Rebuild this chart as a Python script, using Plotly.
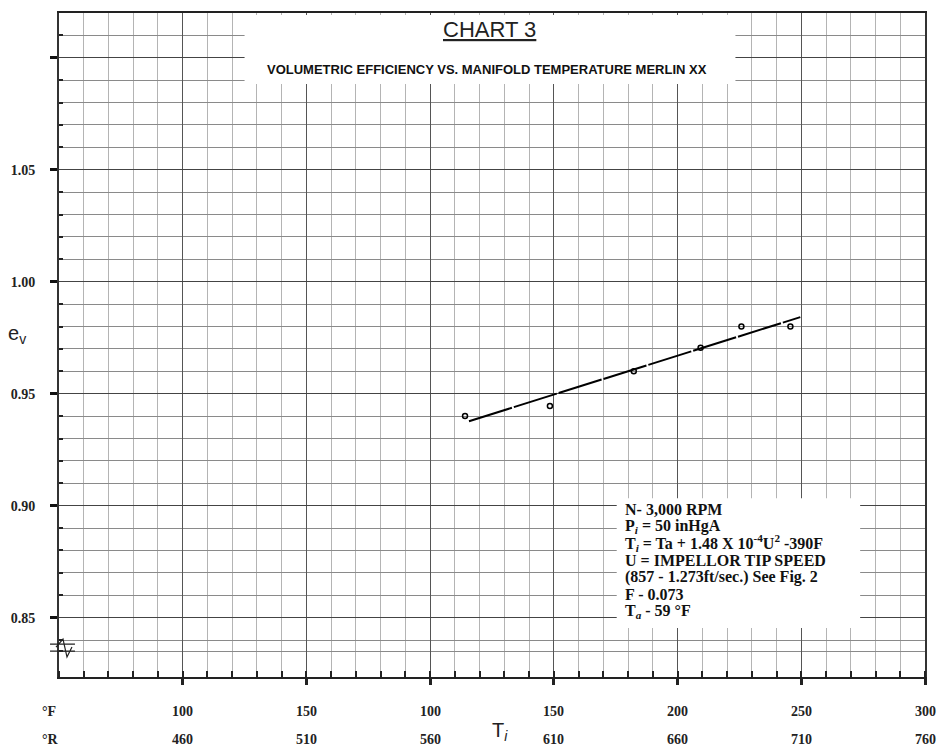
import plotly.graph_objects as go

# ---- data ----
temp_R = [574.1, 608.4, 642.3, 669.3, 685.8, 705.6]
ev = [0.940, 0.9445, 0.960, 0.9705, 0.980, 0.980]

fit_T = [575.7, 709.6]
fit_ev = [0.9377, 0.9842]

x_major = [460, 510, 560, 610, 660, 710, 760]
F_labels = ["100", "150", "100", "150", "200", "250", "300"]
R_labels = ["460", "510", "560", "610", "660", "710", "760"]

y_major = [0.85, 0.90, 0.95, 1.00, 1.05, 1.10]
y_labels = ["0.85", "0.90", "0.95", "1.00", "1.05", ""]
y_minor = [0.835, 0.84, 0.86, 0.87, 0.88, 0.89, 0.91, 0.92, 0.93, 0.94,
           0.96, 0.97, 0.98, 0.99, 1.01, 1.02, 1.03, 1.04, 1.06, 1.07,
           1.08, 1.09, 1.11]

note_lines = [
    "N- 3,000 RPM",
    "P<sub><i>i</i></sub> = 50 inHgA",
    "T<sub><i>i</i></sub> = Ta + 1.48 X 10<sup>-4</sup>U<sup>2</sup> -390F",
    "U = IMPELLOR TIP SPEED",
    "(857 - 1.273ft/sec.) See Fig. 2",
    "F - 0.073",
    "T<sub><i>a</i></sub> - 59 °F",
]

SERIF = "Liberation Serif"
SANS = "Liberation Sans"

W, H = 938, 747
L, R, T, B = 59, 11, 12, 70
PW, PH = W - L - R, H - T - B


def px(xp):
    return (xp - L) / PW


def py(yp):
    return (H - B - yp) / PH


fig = go.Figure()

fig.add_trace(go.Scatter(
    x=fit_T, y=fit_ev, mode="lines",
    line=dict(color="black", width=2, dash="45px,2px"),
    showlegend=False, hoverinfo="skip"))

fig.add_trace(go.Scatter(
    x=temp_R, y=ev, mode="markers",
    marker=dict(symbol="circle-open", size=5, color="black", line=dict(width=1.5)),
    showlegend=False))

fig.update_layout(
    width=W, height=H,
    margin=dict(l=L, r=R, t=T, b=B),
    paper_bgcolor="white", plot_bgcolor="white",
    xaxis=dict(
        range=[410, 760], tickvals=x_major, showticklabels=False,
        showgrid=True, gridcolor="#555", gridwidth=1.3,
        ticks="outside", ticklen=6, tickwidth=2.5, tickcolor="#222",
        showline=True, linecolor="#222", linewidth=2, mirror=True,
        zeroline=False,
        minor=dict(dtick=10, tick0=410, showgrid=True, gridcolor="#b4b4b4",
                   gridwidth=1, ticks="inside", ticklen=6, tickwidth=1.5,
                   tickcolor="#222"),
    ),
    yaxis=dict(
        range=[0.8235, 1.12], tickvals=y_major,
        ticktext=["<b>" + t + "</b>" if t else "" for t in y_labels],
        tickfont=dict(family=SERIF, size=14, color="#222"),
        ticklabelstandoff=12,
        showgrid=True, gridcolor="#444", gridwidth=1.3,
        ticks="outside", ticklen=7, tickwidth=3, tickcolor="#111",
        showline=True, linecolor="#333", linewidth=2, mirror=True,
        zeroline=False,
        minor=dict(tickvals=y_minor, showgrid=True, gridcolor="#8a8a8a",
                   gridwidth=1, ticks="inside", ticklen=4, tickwidth=2,
                   tickcolor="#222"),
    ),
)

# white areas behind the title and the note block
fig.add_shape(type="rect", xref="paper", yref="paper",
              x0=px(245), x1=px(737), y0=py(83), y1=py(14),
              fillcolor="white", line=dict(width=0), layer="above")
fig.add_shape(type="rect", xref="paper", yref="paper",
              x0=px(618), x1=px(862), y0=py(628), y1=py(498),
              fillcolor="white", line=dict(width=0), layer="above")


def txt(text, x, y, font, xref="paper", xanchor="center"):
    return dict(text=text, x=x, y=y, xref=xref, yref="paper",
                xanchor=xanchor, yanchor="middle", showarrow=False, font=font)


f_title = dict(family=SANS, size=22, color="#222")
f_sub = dict(family=SANS, size=13, color="#111")
f_big = dict(family=SANS, size=20, color="#222")
f_note = dict(family=SERIF, size=16, color="#111")
f_tick = dict(family=SERIF, size=14, color="#222")

ann = []
ann.append(txt("<u>CHART 3</u>", px(490), py(29), f_title))
ann.append(txt("<b>VOLUMETRIC EFFICIENCY VS. MANIFOLD TEMPERATURE MERLIN XX</b>",
               px(488), py(69), f_sub))
ann.append(txt("e<sub>v</sub>", px(17), py(334), f_big))

for i, line in enumerate(note_lines):
    ann.append(txt("<b>" + line + "</b>", px(624), py(509 + 17 * i), f_note,
                   xanchor="left"))

ann.append(txt("<b>°F</b>", px(49), py(712), f_tick))
ann.append(txt("<b>°R</b>", px(50), py(740), f_tick))
for xv, fl, rl in zip(x_major, F_labels, R_labels):
    ann.append(txt("<b>" + fl + "</b>", xv, py(712), f_tick, xref="x"))
    ann.append(txt("<b>" + rl + "</b>", xv, py(740), f_tick, xref="x"))
ann.append(txt("T<sub><i>i</i></sub>", px(501), py(732), f_big))

fig.update_layout(annotations=ann)

# axis break mark on the left axis
brk = "M {a},{b} L {c},{b} M {a},{d} L {c},{d} M {e},{f} L {g},{h} L {i},{j} L {k},{l}".format(
    a=px(50), c=px(75), b=py(644), d=py(651),
    e=px(56), f=py(647), g=px(63), h=py(639), i=px(67), j=py(657), k=px(72), l=py(647))
fig.add_shape(type="path", xref="paper", yref="paper", path=brk,
              line=dict(color="#222", width=1.2), layer="above")

fig.write_html(
    "out.html",
    config={"displayModeBar": False},
    post_script="document.body.style.margin='0';document.body.style.overflow='hidden';",
)
